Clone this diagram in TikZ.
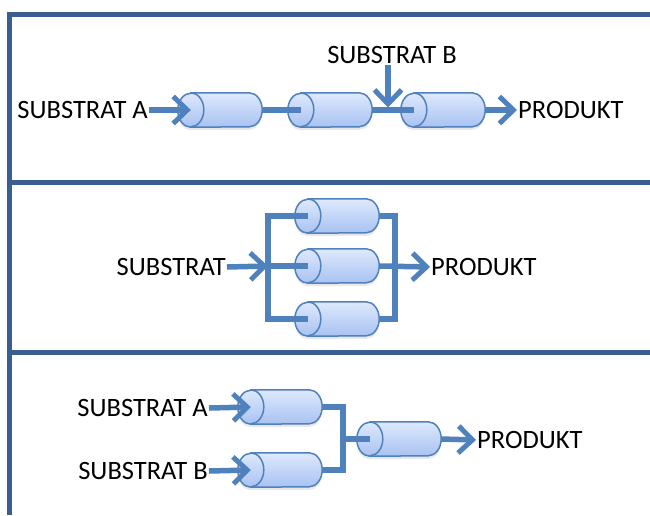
\documentclass[tikz,border=0pt]{standalone}
\usepackage{fontspec}
\setmainfont{Carlito}
\usetikzlibrary{arrows.meta,shadows}

\definecolor{framecol}{RGB}{59,94,145}
\definecolor{linecol}{RGB}{79,129,189}
\definecolor{tubetop}{RGB}{222,233,252}
\definecolor{tubebot}{RGB}{168,194,242}

\tikzset{
  tubebox/.style={minimum width=84pt, minimum height=34pt, inner sep=0pt},
  tubeskin/.style={draw=linecol, line width=1.5pt, top color=tubetop, bottom color=tubebot,
    drop shadow={opacity=0.18, shadow xshift=0pt, shadow yshift=-3pt}},
  conn/.style={draw=linecol, line width=5.5pt},
  arr/.style={conn, -{Straight Barb[length=14pt,width=27pt,line width=5pt]}},
  frame/.style={draw=framecol, line width=5pt},
  txt/.style={inner sep=1pt, font=\fontsize{26.5}{30}\selectfont},
}

% a lying tube: named box plus the drawn cylinder, open end to the left
\newcommand{\tubenode}[2]{%
  \node[tubebox] (#1) at (#2) {};
  \shadedraw[tubeskin] ([xshift=13pt]#1.north west) -- ([xshift=-13pt]#1.north east)
    arc[start angle=90, end angle=-90, x radius=13pt, y radius=17pt]
    -- ([xshift=13pt]#1.south west)
    arc[start angle=270, end angle=90, x radius=13pt, y radius=17pt] -- cycle;
  \draw[draw=linecol, line width=1.5pt] ([xshift=13pt]#1.north west)
    arc[start angle=90, end angle=-90, x radius=13pt, y radius=17pt];
}

\begin{document}
\begin{tikzpicture}
    \useasboundingbox (0pt,0pt) rectangle (650pt,-515pt);

    % Frame:
    % left edge, top edge and the two dividers between the rows
    \draw[frame] (9.5pt,-515pt) -- (9.5pt,-14pt) -- (650pt,-14pt);
    \draw[frame] (9.5pt,-182.5pt) -- (650pt,-182.5pt);
    \draw[frame] (9.5pt,-352pt) -- (650pt,-352pt);

    % Row 1: chain of three tubes, second substrate enters between 2 and 3
    \tubenode{a1}{220pt,-110pt}
    \tubenode{a2}{330pt,-110pt}
    \tubenode{a3}{443pt,-110pt}
    \node[txt, anchor=east] (sA1) at (149pt,-110pt) {SUBSTRAT A};
    \node[txt] (sB1) at (392pt,-55pt) {SUBSTRAT B};
    \node[txt, anchor=west] (pr1) at (517pt,-110pt) {PRODUKT};
    \coordinate (jB) at (388pt,-110pt);

    \draw[arr] (sA1.east) -- ([xshift=13pt]a1.west);
    \draw[conn] (a1.east) -- ([xshift=13pt]a2.west);
    \draw[conn] (a2.east) -- ([xshift=13pt]a3.west);
    \draw[arr] (sB1.south -| jB) -- ([yshift=2.5pt]jB);
    \draw[arr] (a3.east) -- (pr1.west);

    % Row 2: three tubes in parallel
    \tubenode{b1}{337pt,-216pt}
    \tubenode{b2}{337pt,-266pt}
    \tubenode{b3}{337pt,-319pt}
    \coordinate (bl) at (268pt,-266pt);
    \coordinate (br) at (395pt,-266pt);
    \node[txt, anchor=east] (s2) at (227pt,-267pt) {SUBSTRAT};
    \node[txt, anchor=west] (pr2) at (430pt,-267pt) {PRODUKT};

    \draw[conn] ([xshift=13pt]b1.west) -- (b1 -| bl) -- (b3 -| bl) -- ([xshift=13pt]b3.west);
    \draw[conn] (bl) -- ([xshift=13pt]b2.west);
    \draw[conn] (b1.east) -- (b1 -| br) -- (b3 -| br) -- (b3.east);
    \draw[arr] (s2.east) -- (bl);
    \draw[arr] (b2.east) -- (pr2.west);

    % Row 3: two tubes merging into one
    \tubenode{c1}{280pt,-407pt}
    \tubenode{c2}{280pt,-470pt}
    \tubenode{c3}{399pt,-439pt}
    \coordinate (cj) at (343pt,-439pt);
    \node[txt, anchor=east] (sA3) at (209pt,-408pt) {SUBSTRAT A};
    \node[txt, anchor=east] (sB3) at (209pt,-471pt) {SUBSTRAT B};
    \node[txt, anchor=west] (pr3) at (476pt,-440pt) {PRODUKT};

    \draw[arr] (sA3.east) -- ([xshift=13pt]c1.west);
    \draw[arr] (sB3.east) -- ([xshift=13pt]c2.west);
    \draw[conn] (c1.east) -- (c1 -| cj) -- (c2 -| cj) -- (c2.east);
    \draw[conn] (cj) -- ([xshift=13pt]c3.west);
    \draw[arr] (c3.east) -- (pr3.west);
\end{tikzpicture}
\end{document}
